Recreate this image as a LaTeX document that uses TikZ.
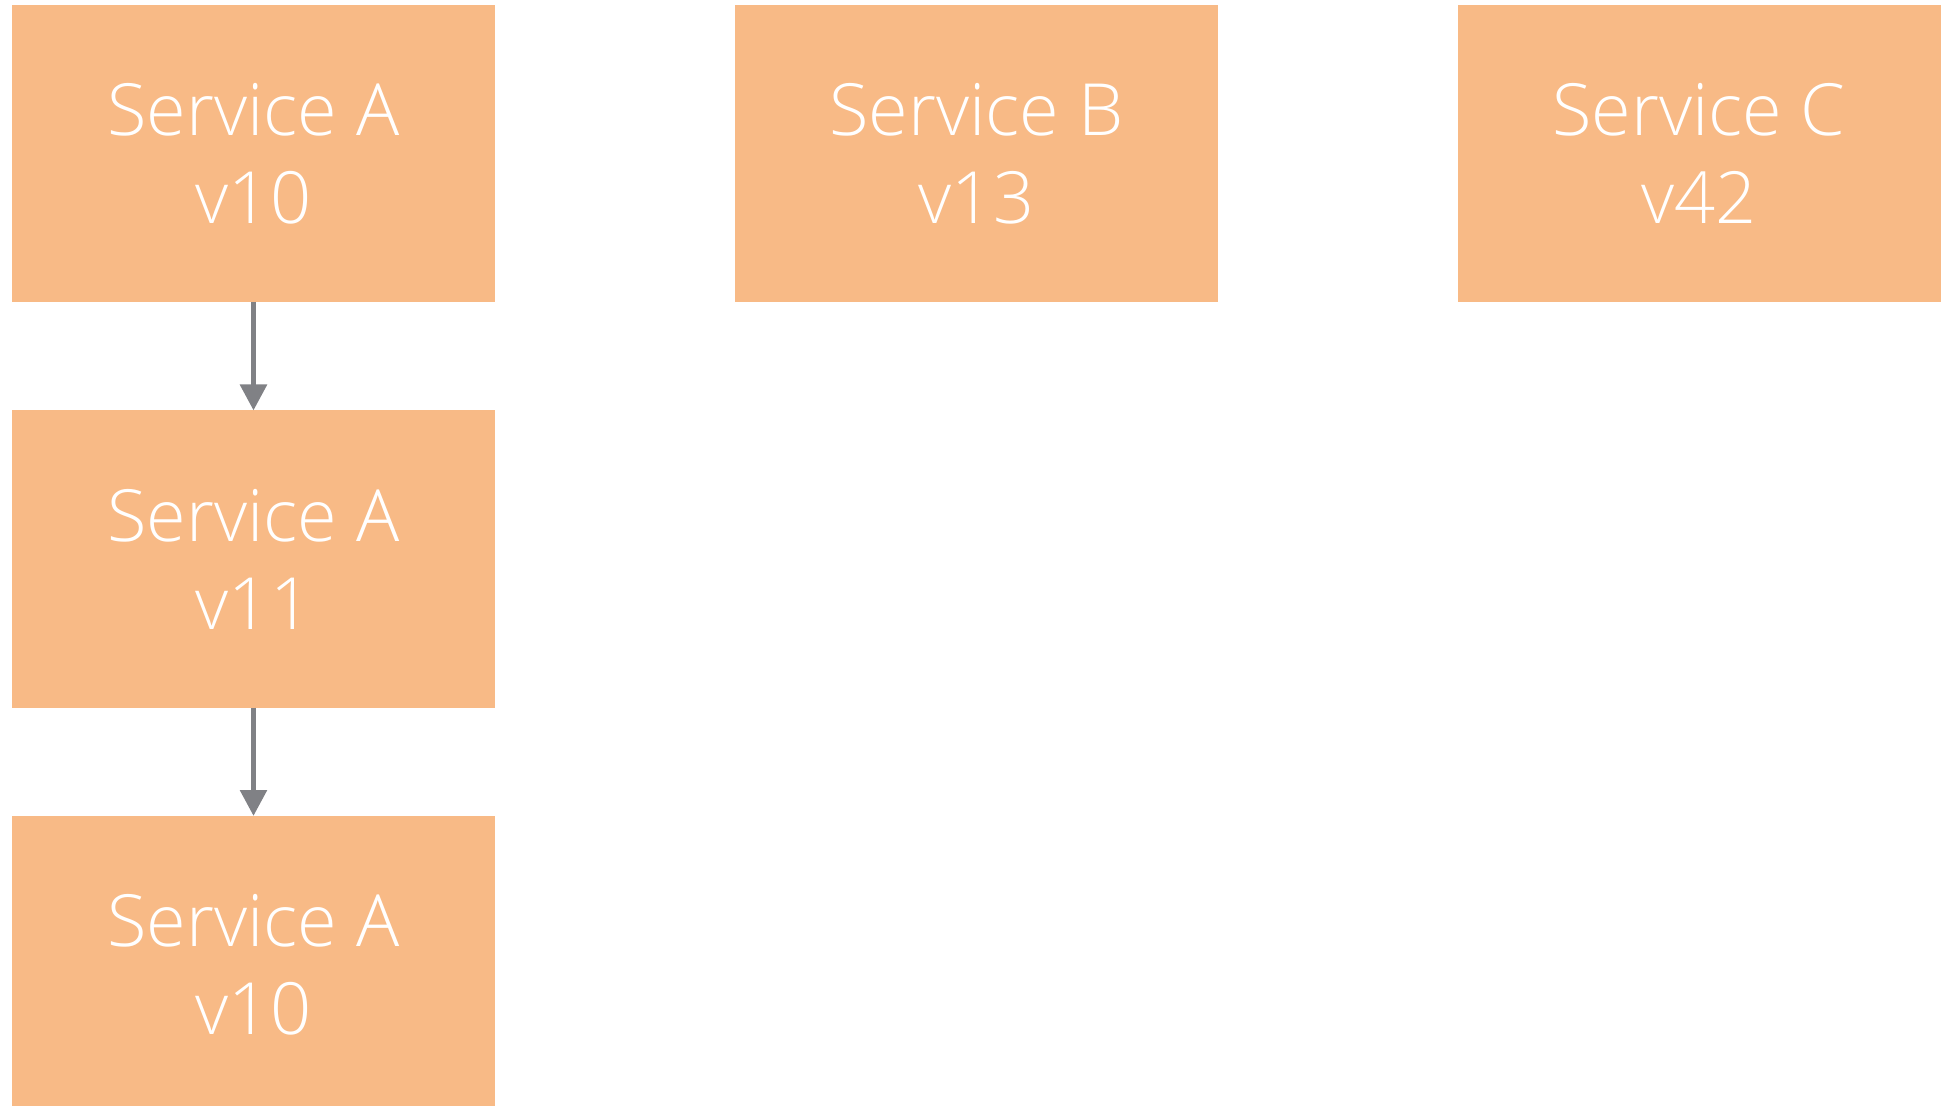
\documentclass[tikz,border=0pt]{standalone}
\usepackage{fontspec}
\setmainfont{Open Sans}[UprightFont = * Light]
\usetikzlibrary{arrows.meta}

\definecolor{svcorange}{RGB}{248,186,134}
\definecolor{flowgray}{RGB}{128,129,133}

\tikzset{
  service/.style = {rectangle,
                    fill = svcorange,
                    text = white,
                    align = center,
                    inner sep = 0pt,
                    outer sep = 0pt,
                    minimum width = 241.5pt,
                    minimum height = 148.5pt,
                    font = \fontsize{36}{44}\selectfont}
}

\begin{document}
\begin{tikzpicture}[x=0.5pt,y=-0.5pt,
                    ->,>={Triangle[width=13pt,length=13pt]}]

    \useasboundingbox (0,0) rectangle (1944,1106);

    \node[service] (a10) at (253.5,153.5) {Service A\\v10};
    \node[service] (b13) at (976.5,153.5) {Service B\\v13};
    \node[service] (c42) at (1699,153.5) {Service C\\v42};

    \node[service] (a11) at (253.5,559) {Service A\\v11};
    \node[service] (a10b) at (253.5,964.5) {Service A\\v10};

    \path[color = flowgray, line width = 2.8pt]
    %rollout path
    (a10) edge [] (a11)
    (a11) edge [] (a10b);

\end{tikzpicture}
\end{document}
